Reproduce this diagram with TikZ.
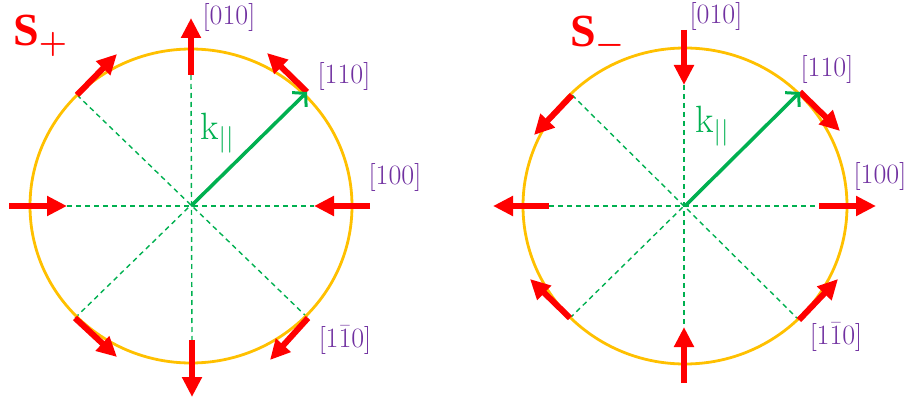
\RequirePackage{fix-cm}
\documentclass[tikz,border=0pt]{standalone}
\usepackage{fontspec}
\newfontfamily\sfnt{Liberation Serif}
\usetikzlibrary{arrows.meta}
\definecolor{cred}{HTML}{FF0000}
\definecolor{corange}{HTML}{FFC000}
\definecolor{cgreen}{HTML}{00B050}
\definecolor{cpurple}{HTML}{7030A0}
\begin{document}
\begin{tikzpicture}[x=1pt,y=-1pt,
  spin/.style={cred,line width=6pt,-{Triangle[width=19pt,length=20pt]}},
  guide/.style={cgreen,line width=1.4pt,dash pattern=on 5pt off 4pt},
  ring/.style={corange,line width=2.8pt},
  kvec/.style={cgreen,line width=3.5pt,-{Straight Barb[length=9pt,width=20pt,line width=3pt]}},
  dir/.style={cpurple,font=\fontsize{28}{32}\selectfont,inner sep=0pt},
  klab/.style={cgreen,font=\fontsize{38}{44}\selectfont,inner sep=0pt,anchor=base west},
  slab/.style={cred,font=\fontsize{46}{54}\selectfont\boldmath,inner sep=0pt,anchor=base west}]
\useasboundingbox (0,0) rectangle (913,401);
% ---------- S+ ----------
\coordinate (c1) at (191,206);
\coordinate (a1t) at (191,75);  \coordinate (a1h) at (191,18);
\coordinate (b1t) at (307,92);  \coordinate (b1h) at (267,53);
\coordinate (c1t) at (370,206); \coordinate (c1h) at (314,206);
\coordinate (d1t) at (308,318); \coordinate (d1h) at (270,360);
\coordinate (e1t) at (192,340); \coordinate (e1h) at (192,397);
\coordinate (f1t) at (75,318);  \coordinate (f1h) at (117,357);
\coordinate (g1t) at (9,206);   \coordinate (g1h) at (67,206);
\coordinate (h1t) at (77,95);   \coordinate (h1h) at (117,54);
\draw[guide] (a1t) -- (e1t);
\draw[guide] (g1h) -- (c1h);
\draw[guide] (h1t) -- (d1t);
\draw[guide] (f1t) -- (b1t);
\draw[ring] (c1) ellipse [x radius=161, y radius=157];
\foreach \p in {a1,b1,c1,d1,e1,f1,g1,h1} \draw[spin] (\p t) -- (\p h);
\draw[kvec] (c1) -- (b1t);
\node[klab] (k1) at (200,140) {$\mathrm{k}_{||}$};
\node[slab] (s1) at (13,46) {{\sfnt\bfseries S}$_{+}$};
\node[dir] (l1a) at (229,18) {[010]};
\node[dir] (l1b) at (344,77) {[110]};
\node[dir] (l1c) at (395,177) {[100]};
\node[dir] (l1d) at (345,340) {$[1\bar{1}0]$};
% ---------- S- ----------
\coordinate (c2) at (685,206);
\coordinate (a2t) at (684,30);  \coordinate (a2h) at (684,85);
\coordinate (b2t) at (800,92);  \coordinate (b2h) at (840,131);
\coordinate (c2t) at (819,206); \coordinate (c2h) at (876,206);
\coordinate (d2t) at (799,320); \coordinate (d2h) at (838,279);
\coordinate (e2t) at (684,383); \coordinate (e2h) at (684,327);
\coordinate (f2t) at (570,318); \coordinate (f2h) at (530,279);
\coordinate (g2t) at (549,206); \coordinate (g2h) at (493,206);
\coordinate (h2t) at (572,95);  \coordinate (h2h) at (534,135);
\draw[guide] (a2h) -- (e2h);
\draw[guide] (g2t) -- (c2t);
\draw[guide] (h2t) -- (d2t);
\draw[guide] (f2t) -- (b2t);
\draw[ring] (c2) ellipse [x radius=162, y radius=158];
\foreach \p in {a2,b2,c2,d2,e2,f2,g2,h2} \draw[spin] (\p t) -- (\p h);
\draw[kvec] (c2) -- (b2t);
\node[klab] (k2) at (695,133) {$\mathrm{k}_{||}$};
\node[slab] (s2) at (570,47) {{\sfnt\bfseries S}$_{-}$};
\node[dir] (l2a) at (716,17) {[010]};
\node[dir] (l2b) at (827,70) {[110]};
\node[dir] (l2c) at (880,176) {[100]};
\node[dir] (l2d) at (836,337) {$[1\bar{1}0]$};
\end{tikzpicture}
\end{document}
